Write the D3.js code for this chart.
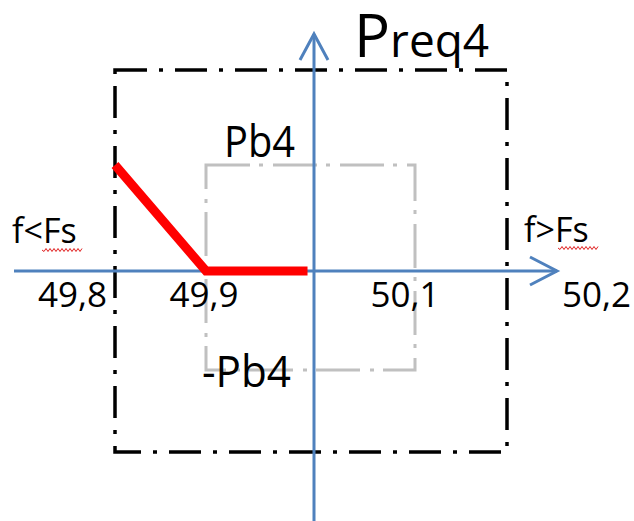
<!DOCTYPE html>
<html>
<head>
<meta charset="utf-8">
<script src="https://cdn.jsdelivr.net/npm/d3@7"></script>
<style>
  html, body { margin: 0; padding: 0; background: #fff; }
  svg { display: block; }
  text { font-family: "Open Sans", sans-serif; fill: #000; }
</style>
</head>
<body>
<div id="chart"></div>
<script>
// frequency (Hz) and power levels (Preq4 = 2, Pb4 = 1)
var freqBreaks = [49.8, 49.9, 50.0, 50.1, 50.2];
var powerBreaks = [-2, -1, 0, 1, 2];
var outerFreq = [49.8, 50.2];
var outerPower = [-2, 2];   // +-Preq4
var innerFreq = [49.9, 50.1];
var innerPower = [-1, 1];   // +-Pb4
var tickValues = [49.8, 49.9, 50.1, 50.2];
var tickLabels = ["49,8", "49,9", "50,1", "50,2"];
var droopFreq = [49.8, 49.9, 49.994];
var droopPower = [1, 0, 0];

var W = 634, H = 521;
var svg = d3.select("#chart").append("svg")
    .attr("width", W).attr("height", H);
svg.append("rect").attr("width", W).attr("height", H).attr("fill", "#fff");

// piecewise scales, picture is not evenly spaced
var x = d3.scaleLinear().domain(freqBreaks).range([115, 206, 314, 415, 507]);
var y = d3.scaleLinear().domain(powerBreaks).range([452, 370, 271, 165, 70]);

var x0 = x(50.0), y0 = y(0);

function box(f, p, color, width, dash) {
    svg.append("rect")
        .attr("x", x(f[0])).attr("y", y(p[1]))
        .attr("width", x(f[1]) - x(f[0]))
        .attr("height", y(p[0]) - y(p[1]))
        .attr("fill", "none")
        .attr("stroke", color)
        .attr("stroke-width", width)
        .attr("stroke-dasharray", dash);
}
box(innerFreq, innerPower, "#c0c0c0", 3, "44,9,4,10");
box(outerFreq, outerPower, "#000", 3.5, "32,12,4,12");

// axes
var blue = "#4f81bd";
svg.append("line").attr("x1", 14).attr("x2", 557).attr("y1", y0).attr("y2", y0)
    .attr("stroke", blue).attr("stroke-width", 3);
svg.append("path").attr("d", "M530," + (y0 - 14) + " L557," + y0 + " L530," + (y0 + 14))
    .attr("fill", "none").attr("stroke", blue).attr("stroke-width", 3);
svg.append("line").attr("x1", x0).attr("x2", x0).attr("y1", 34).attr("y2", H)
    .attr("stroke", blue).attr("stroke-width", 3);
svg.append("path").attr("d", "M" + (x0 - 14) + ",60 L" + x0 + ",34 L" + (x0 + 14) + ",60")
    .attr("fill", "none").attr("stroke", blue).attr("stroke-width", 3);

// droop characteristic
var line = d3.line().x(function(d){ return x(d[0]); }).y(function(d){ return y(d[1]); });
svg.append("path")
    .datum(d3.zip(droopFreq, droopPower))
    .attr("d", line)
    .attr("fill", "none")
    .attr("stroke", "#ff0000")
    .attr("stroke-width", 9)
    .attr("stroke-linejoin", "miter");

// tick labels
svg.selectAll("text.tick").data(tickValues).enter().append("text")
    .attr("class", "tick")
    .attr("font-size", 35)
    .attr("y", 307)
    .attr("x", function(d, i){
        if (i == 0) return x(d) - 8;
        if (i == 3) return x(d) + 55;
        if (i == 2) return x(d) - 10;
        return x(d) - 2;
    })
    .attr("text-anchor", function(d, i){
        return i == 0 ? "end" : (i == 3 ? "start" : "middle");
    })
    .text(function(d, i){ return tickLabels[i]; });

// f<Fs / f>Fs
function squiggle(xa, xb, yy) {
    var d = "M" + xa + "," + yy, k = 0;
    for (var xx = xa + 2; xx <= xb; xx += 2) {
        k++;
        d += " L" + xx + "," + (yy + (k % 2 ? 1.5 : -1.5));
    }
    svg.append("path").attr("d", d).attr("fill", "none")
        .attr("stroke", "#e02020").attr("stroke-width", 1);
}
svg.append("text").attr("x", 12).attr("y", 243).attr("font-size", 34).text("f<Fs");
squiggle(42, 82, 250);
svg.append("text").attr("x", 524).attr("y", 242).attr("font-size", 34).text("f>Fs");
squiggle(558, 598, 248);

// power labels
var preq = svg.append("text").attr("x", 354).attr("y", 57);
preq.append("tspan").attr("font-size", 60).text("P");
preq.append("tspan").attr("font-size", 46).text("req4");

svg.append("text").attr("x", 224).attr("y", 157).attr("font-size", 44)
    .attr("textLength", 71).attr("lengthAdjust", "spacingAndGlyphs").text("Pb4");
svg.append("text").attr("x", 202).attr("y", 387).attr("font-size", 44)
    .attr("textLength", 89).attr("lengthAdjust", "spacingAndGlyphs").text("-Pb4");
</script>
</body>
</html>
